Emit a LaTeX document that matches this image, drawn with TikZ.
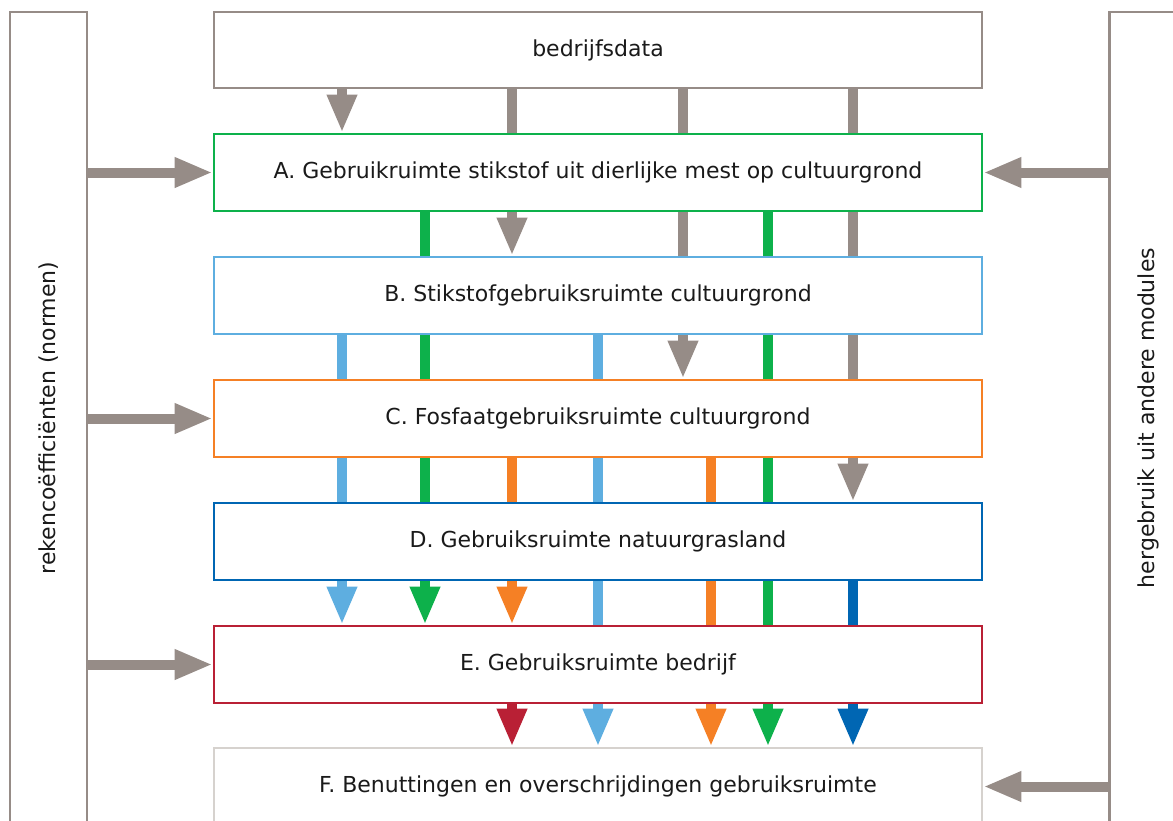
\documentclass[tikz,border=0pt]{standalone}
\usepackage{fontspec}
\setmainfont{DejaVu Sans}
\usetikzlibrary{arrows.meta}
\pgfdeclarelayer{bg}
\pgfsetlayers{bg,main}

\definecolor{flowgray}{HTML}{968C87}
\definecolor{flowgreen}{HTML}{0DB14B}
\definecolor{flowlblue}{HTML}{5EAEE0}
\definecolor{floworange}{HTML}{F58025}
\definecolor{flowdblue}{HTML}{0066B3}
\definecolor{flowred}{HTML}{B92035}
\definecolor{flowlight}{HTML}{D6D2CE}
\definecolor{flowtext}{HTML}{1A1A1A}

\tikzset{
  stagebox/.style={draw=#1, line width=2.8pt, fill=white, minimum width=768pt,
    minimum height=77pt, inner sep=0pt, font=\fontsize{22}{26}\selectfont, text=flowtext},
  sidebox/.style={draw=flowgray, line width=2.8pt, fill=white, minimum width=77pt,
    minimum height=812pt, inner sep=0pt},
  sidetext/.style={rotate=90, font=\fontsize{22}{26}\selectfont, text=flowtext},
  flow/.style={draw=#1, line width=10pt},
  flowarrow/.style={draw=#1, fill=#1, line width=10pt,
    -{Triangle[width=28pt,length=38pt]}},
}

\begin{document}
\begin{tikzpicture}[x=1pt,y=-1pt]
\useasboundingbox (0,0) rectangle (1173,820);

% side columns
\node[sidebox] (rek) at (48.5,418) {};
\node[sidetext] (rektxt) at (48.5,418) {rekencoëfficiënten (normen)};
\node[sidebox] (her) at (1148,418) {};
\node[sidetext] (hertxt) at (1148,418) {hergebruik uit andere modules};

% stages
\node[stagebox=flowgray, minimum height=76pt] (data) at (598,50) {bedrijfsdata};
\node[stagebox=flowgreen] (A) at (598,172.5) {A. Gebruikruimte stikstof uit dierlijke mest op cultuurgrond};
\node[stagebox=flowlblue] (B) at (598,295.5) {B. Stikstofgebruiksruimte cultuurgrond};
\node[stagebox=floworange] (C) at (598,418.5) {C. Fosfaatgebruiksruimte cultuurgrond};
\node[stagebox=flowdblue] (D) at (598,541.5) {D. Gebruiksruimte natuurgrasland};
\node[stagebox=flowred] (E) at (598,664.5) {E. Gebruiksruimte bedrijf};
\node[stagebox=flowlight] (F) at (598,786.5) {F. Benuttingen en overschrijdingen gebruiksruimte};

% columns of the vertical connectors
\coordinate (k1) at (342,0);
\coordinate (k2) at (425,0);
\coordinate (k3) at (512,0);
\coordinate (k4) at (598,0);
\coordinate (k5) at (683,0);
\coordinate (k6) at (711,0);
\coordinate (k7) at (768,0);
\coordinate (k8) at (853,0);

\begin{pgfonlayer}{bg}
  % from bedrijfsdata
  \draw[flowarrow=flowgray] (data.south -| k1) -- (A.north -| k1);
  \draw[flowarrow=flowgray] (data.south -| k3) -- (B.north -| k3);
  \draw[flowarrow=flowgray] (data.south -| k5) -- (C.north -| k5);
  \draw[flowarrow=flowgray] (data.south -| k8) -- (D.north -| k8);
  % from A
  \draw[flowarrow=flowgreen] (A.south -| k2) -- (E.north -| k2);
  \draw[flowarrow=flowgreen] (A.south -| k7) -- (F.north -| k7);
  % from B
  \draw[flowarrow=flowlblue] (B.south -| k1) -- (E.north -| k1);
  \draw[flowarrow=flowlblue] (B.south -| k4) -- (F.north -| k4);
  % from C
  \draw[flowarrow=floworange] (C.south -| k3) -- (E.north -| k3);
  \draw[flowarrow=floworange] (C.south -| k6) -- (F.north -| k6);
  % from D
  \draw[flowarrow=flowdblue] (D.south -| k8) -- (F.north -| k8);
  % from E
  \draw[flowarrow=flowred] (E.south -| k3) -- (F.north -| k3);
\end{pgfonlayer}

% inputs from the side columns
\draw[flowarrow=flowgray] (A.west -| rek.east) -- (A.west);
\draw[flowarrow=flowgray] (C.west -| rek.east) -- (C.west);
\draw[flowarrow=flowgray] (E.west -| rek.east) -- (E.west);
\draw[flowarrow=flowgray] (A.east -| her.west) -- (A.east);
\draw[flowarrow=flowgray] (F.east -| her.west) -- (F.east);
\end{tikzpicture}
\end{document}
